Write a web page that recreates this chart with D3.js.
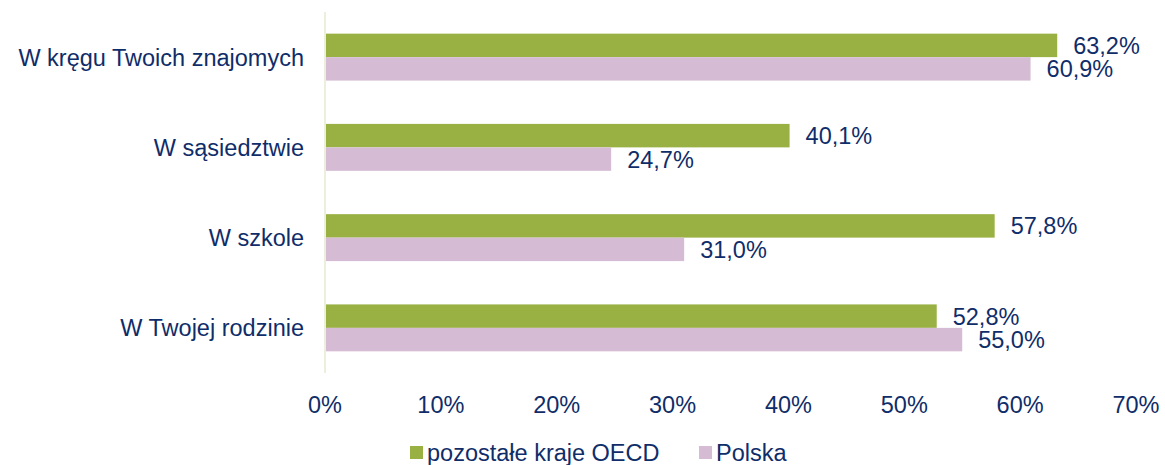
<!DOCTYPE html>
<html>
<head>
<meta charset="utf-8">
<script src="https://cdn.jsdelivr.net/npm/d3@7"></script>
<style>
  body { margin: 0; background: #fff; }
  text { font-family: "Liberation Sans", Arial, sans-serif; fill: #0f2d69; }
</style>
</head>
<body>
<div id="chart"></div>
<script>
// data, top to bottom
var categories = ["W kręgu Twoich znajomych", "W sąsiedztwie", "W szkole", "W Twojej rodzinie"];
var seriesNames = ["pozostałe kraje OECD", "Polska"];
var oecdValues = [63.2, 40.1, 57.8, 52.8];
var polskaValues = [60.9, 24.7, 31.0, 55.0];
var tickValues = [0, 10, 20, 30, 40, 50, 60, 70];
var colors = ["#99b042", "#d5bcd4"];

var w = 1165, h = 465;
var fontSize = 23.5;

var svg = d3.select("#chart")
            .append("svg")
            .attr("width", w)
            .attr("height", h);

var x = d3.scaleLinear().domain([0, 70]).range([325, 1136]);

var y = d3.scaleBand()
          .domain(categories)
          .range([12, 373])
          .paddingInner(0.48)
          .paddingOuter(0.24);

var ySub = d3.scaleBand()
             .domain(seriesNames)
             .range([0, y.bandwidth()]);

var fmt = function(v){ return v.toFixed(1).replace(".", ",") + "%"; };

// vertical axis line
svg.append("line")
   .attr("x1", x(0)).attr("x2", x(0))
   .attr("y1", 12).attr("y2", 373)
   .attr("stroke", "#eeeedd")
   .attr("stroke-width", 2);

var rows = categories.map(function(c, i){
  return {cat: c, vals: [oecdValues[i], polskaValues[i]]};
});

var groups = svg.append("g")
                .selectAll(".row")
                .data(rows)
                .enter()
                .append("g")
                .attr("class", "row")
                .attr("transform", function(d){ return "translate(0," + y(d.cat) + ")"; });

groups.selectAll("rect")
      .data(function(d){ return d.vals.map(function(v, j){ return {s: seriesNames[j], v: v, j: j}; }); })
      .enter()
      .append("rect")
      .attr("x", x(0) + 1)
      .attr("y", function(d){ return ySub(d.s); })
      .attr("width", function(d){ return x(d.v) - x(0) - 1; })
      .attr("height", ySub.bandwidth())
      .attr("fill", function(d){ return colors[d.j]; });

groups.selectAll(".val")
      .data(function(d){ return d.vals.map(function(v, j){ return {s: seriesNames[j], v: v}; }); })
      .enter()
      .append("text")
      .attr("class", "val")
      .attr("x", function(d){ return x(d.v) + 16; })
      .attr("y", function(d){ return ySub(d.s) + ySub.bandwidth() / 2; })
      .attr("dy", "0.36em")
      .style("font-size", fontSize + "px")
      .text(function(d){ return fmt(d.v); });

// category labels
svg.append("g")
   .selectAll("text")
   .data(categories)
   .enter()
   .append("text")
   .attr("x", 304)
   .attr("y", function(d){ return y(d) + y.bandwidth() / 2; })
   .attr("dy", "0.36em")
   .attr("text-anchor", "end")
   .style("font-size", fontSize + "px")
   .text(function(d){ return d; });

// x tick labels
svg.append("g")
   .selectAll("text")
   .data(tickValues)
   .enter()
   .append("text")
   .attr("x", function(d){ return x(d); })
   .attr("y", 413)
   .attr("text-anchor", "middle")
   .style("font-size", fontSize + "px")
   .text(function(d){ return d + "%"; });

// legend
var legendX = [410, 699];
var legend = svg.append("g")
                .selectAll("g")
                .data(seriesNames)
                .enter()
                .append("g")
                .attr("transform", function(d, i){ return "translate(" + legendX[i] + ",446)"; });

legend.append("rect")
      .attr("width", 13)
      .attr("height", 13)
      .attr("fill", function(d, i){ return colors[i]; });

legend.append("text")
      .attr("x", 17)
      .attr("y", 6.5)
      .attr("dy", "0.36em")
      .style("font-size", fontSize + "px")
      .text(function(d){ return d; });
</script>
</body>
</html>
